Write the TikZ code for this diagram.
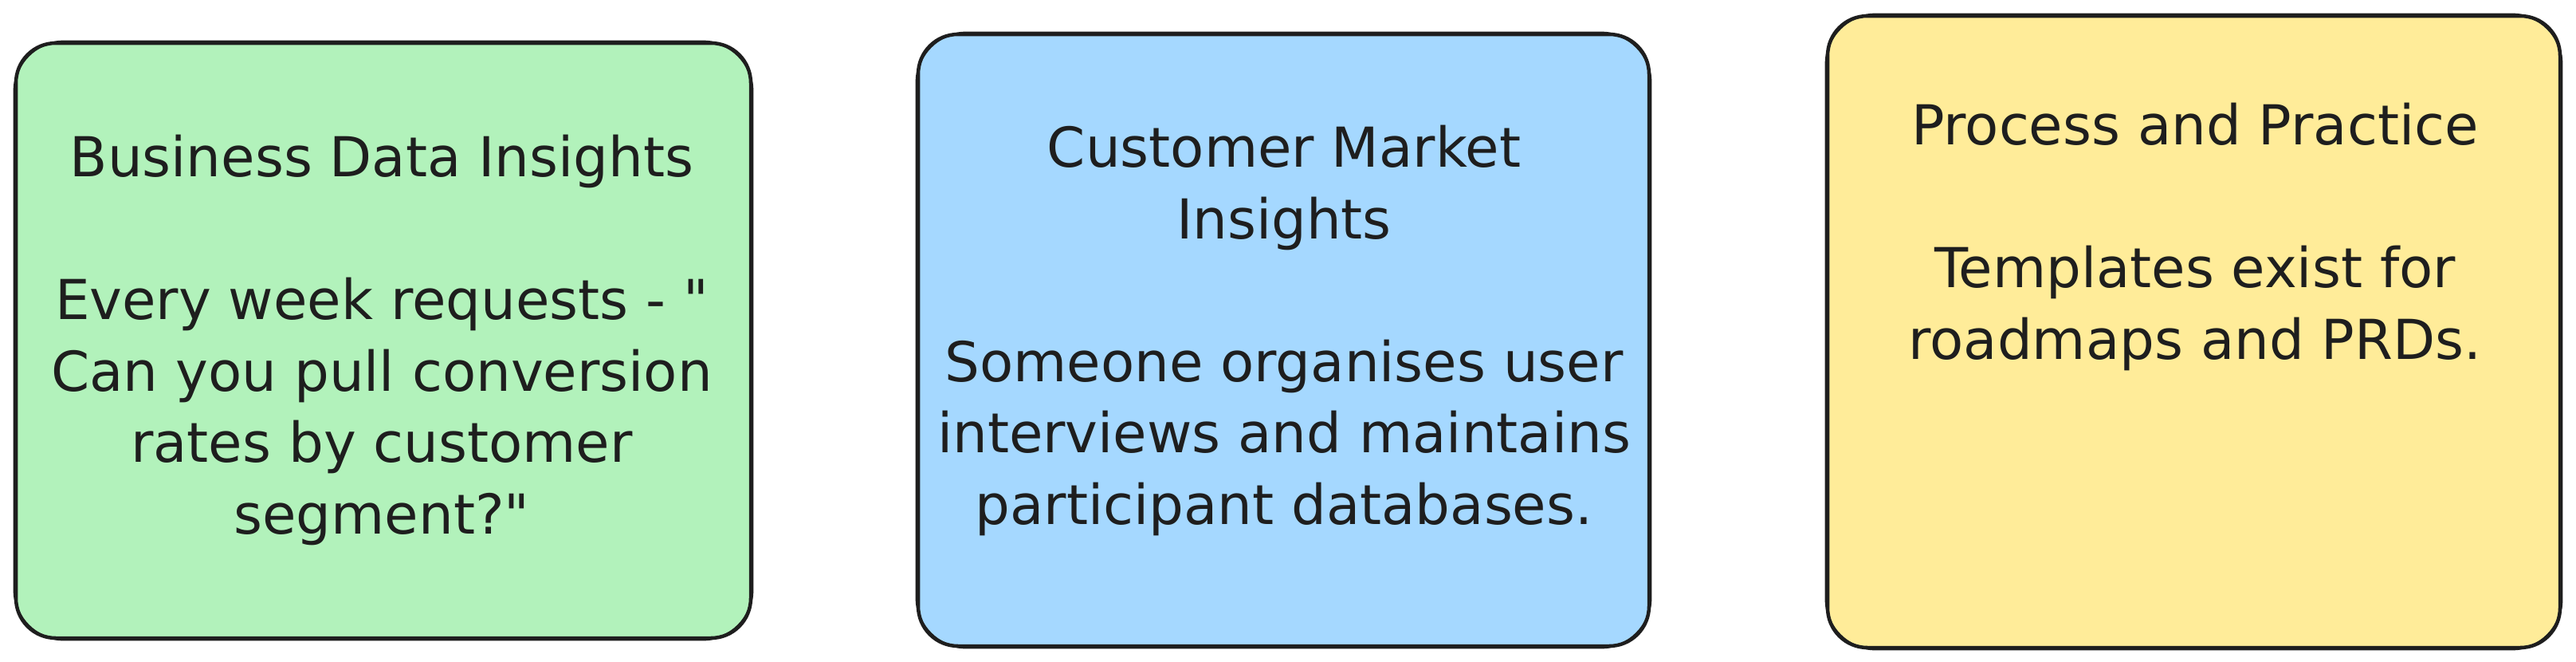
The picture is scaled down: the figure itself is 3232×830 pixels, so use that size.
\documentclass[tikz,border=0pt]{standalone}
\usepackage{fontspec}
\setmainfont{DejaVu Sans}[Ligatures=TeXOff]
\usepackage{tikz}
\usetikzlibrary{positioning}
\definecolor{inkgray}{HTML}{1E1E1E}
\definecolor{cardgreen}{HTML}{B2F2BB}
\definecolor{cardblue}{HTML}{A5D8FF}
\definecolor{cardyellow}{HTML}{FFEC99}

\begin{document}
\begin{tikzpicture}[x=1pt, y=-1pt,
    card/.style={rectangle, draw=inkgray, line width=4.5pt, rounded corners=50pt, inner sep=0pt},
    sketch/.style={draw=inkgray, line width=2.2pt, rounded corners=62pt},
    cardtext/.style={anchor=north, inner sep=0pt, align=center, text=inkgray, font=\fontsize{69}{89.5}\selectfont},
]
    \useasboundingbox (0,0) rectangle (3232,830);

    % the three cards
    \node[card, fill=cardgreen, minimum width=922pt, minimum height=746pt] (bdi) at (481,427) {};
    \node[card, fill=cardblue, minimum width=917pt, minimum height=767pt] (cmi) at (1610.5,426.5) {};
    \node[card, fill=cardyellow, minimum width=919pt, minimum height=792pt] (pap) at (2752.5,416) {};

    % second pencil stroke
    \draw[sketch] (bdi.north west) rectangle (bdi.south east);
    \draw[sketch] (cmi.north west) rectangle (cmi.south east);
    \draw[sketch] (pap.north west) rectangle (pap.south east);

    \node[cardtext] (bditext) at (479,169) {Business Data Insights\\[89.5pt]Every week requests - "\\Can you pull conversion\\rates by customer\\segment?"};
    \node[cardtext] (cmitext) at (1611,157) {Customer Market\\Insights\\[89.5pt]Someone organises user\\interviews and maintains\\participant databases.};
    \node[cardtext] (paptext) at (2754,129) {Process and Practice\\[89.5pt]Templates exist for\\roadmaps and PRDs.};
\end{tikzpicture}
\end{document}
